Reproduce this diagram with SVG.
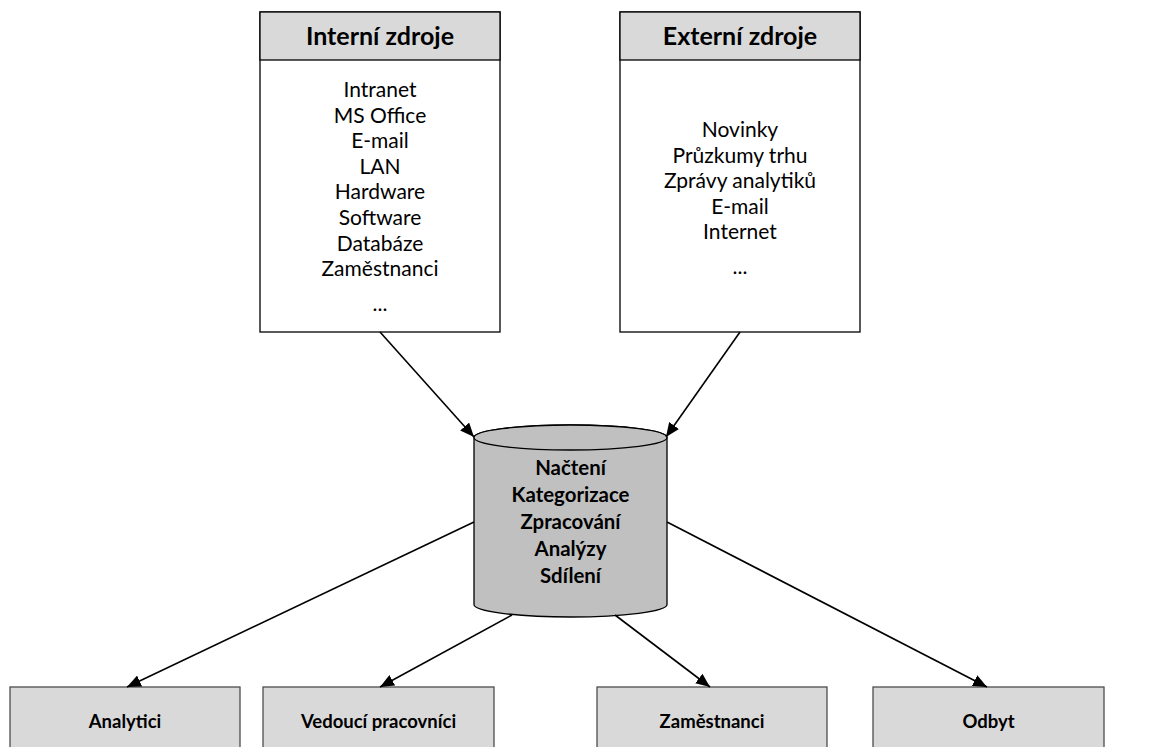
<svg xmlns="http://www.w3.org/2000/svg" width="1150" height="747" viewBox="0 0 1150 747">
<defs>
<style>
.box{fill:#ffffff;stroke:#000;stroke-width:1.3}
.hdr{fill:#d9d9d9;stroke:#000;stroke-width:1.3}
.out{fill:#d9d9d9;stroke:#4d4d4d;stroke-width:1.3}
.cyl{fill:#c0c0c0;stroke:#000;stroke-width:1.3}
.t{font-family:Lato,"Liberation Sans",sans-serif;fill:#000;text-anchor:middle}
.h{font-size:25px;font-weight:bold}
.l{font-size:21px}
.c{font-size:20.4px;font-weight:bold}
.o{font-size:18.5px;font-weight:bold}
.con line{stroke:#000;stroke-width:1.6;marker-end:url(#ah)}
</style>
<marker id="ah" markerUnits="userSpaceOnUse" viewBox="0 0 14 12" refX="14" refY="6" markerWidth="14" markerHeight="12" orient="auto">
<path d="M0,0 L14,6 L0,12 Z" fill="#000"/>
</marker>
</defs>
<g id="interni">
<rect class="box" x="260" y="12" width="240" height="320"/>
<rect class="hdr" x="260" y="12" width="240" height="48"/>
<text class="t h" x="380" y="45">Interní zdroje</text>
<text class="t l" x="380" y="97">Intranet</text>
<text class="t l" x="380" y="122.6">MS Office</text>
<text class="t l" x="380" y="148.2">E-mail</text>
<text class="t l" x="380" y="173.8">LAN</text>
<text class="t l" x="380" y="199.4">Hardware</text>
<text class="t l" x="380" y="225">Software</text>
<text class="t l" x="380" y="250.6">Databáze</text>
<text class="t l" x="380" y="276.2">Zaměstnanci</text>
<text class="t l" x="380" y="311">...</text>
</g>
<g id="externi">
<rect class="box" x="620" y="12" width="240" height="320"/>
<rect class="hdr" x="620" y="12" width="240" height="48"/>
<text class="t h" x="740" y="45">Externí zdroje</text>
<text class="t l" x="740" y="137">Novinky</text>
<text class="t l" x="740" y="162.6">Průzkumy trhu</text>
<text class="t l" x="740" y="188.2">Zprávy analytiků</text>
<text class="t l" x="740" y="213.8">E-mail</text>
<text class="t l" x="740" y="239.4">Internet</text>
<text class="t l" x="740" y="274">...</text>
</g>
<g id="zpracovani">
<path class="cyl" d="M474,437.5 L474,604.5 A96.5,12.5 0 0 0 667,604.5 L667,437.5 A96.5,12.5 0 0 0 474,437.5 Z"/>
<ellipse class="cyl" cx="570.5" cy="437.5" rx="96.5" ry="12.5"/>
<text class="t c" x="570.5" y="475">Načtení</text>
<text class="t c" x="570.5" y="502">Kategorizace</text>
<text class="t c" x="570.5" y="529">Zpracování</text>
<text class="t c" x="570.5" y="556">Analýzy</text>
<text class="t c" x="570.5" y="583">Sdílení</text>
</g>
<g id="analytici">
<rect class="out" x="10" y="687" width="230" height="80"/>
<text class="t o" x="125" y="728">Analytici</text>
</g>
<g id="vedouci">
<rect class="out" x="263" y="687" width="231" height="80"/>
<text class="t o" x="378.5" y="728">Vedoucí pracovníci</text>
</g>
<g id="zamestnanci">
<rect class="out" x="597" y="687" width="230" height="80"/>
<text class="t o" x="712" y="728">Zaměstnanci</text>
</g>
<g id="odbyt">
<rect class="out" x="873" y="687" width="231" height="80"/>
<text class="t o" x="988.5" y="728">Odbyt</text>
</g>
<g id="connectors" class="con">
<line x1="380" y1="332" x2="474" y2="437"/>
<line x1="740" y1="332" x2="666" y2="437"/>
<line x1="474" y1="522" x2="127" y2="687"/>
<line x1="512" y1="615" x2="380" y2="687"/>
<line x1="615" y1="615" x2="710" y2="687"/>
<line x1="667" y1="522" x2="987" y2="687"/>
</g>
</svg>
